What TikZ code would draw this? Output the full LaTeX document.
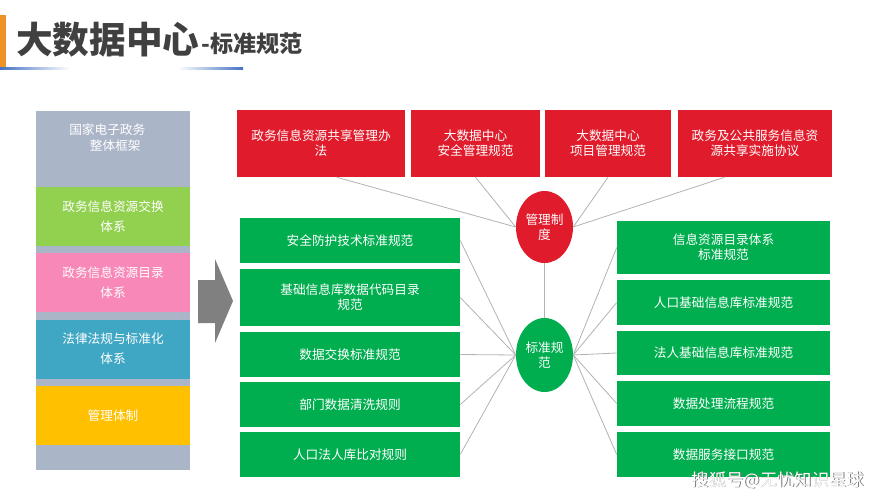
\documentclass[tikz,border=0pt]{standalone}
\usepackage{fontspec}
\setmainfont{Noto Sans CJK SC}
\definecolor{frameGray}{HTML}{ABB5C8}
\definecolor{limeGreen}{HTML}{92D050}
\definecolor{rosePink}{HTML}{F788B8}
\definecolor{seaBlue}{HTML}{3FA7C4}
\definecolor{amber}{HTML}{FFC000}
\definecolor{ruleRed}{HTML}{E01B2B}
\definecolor{stdGreen}{HTML}{00AE50}
\definecolor{titleGray}{HTML}{404040}
\definecolor{barOrange}{HTML}{EE9127}
\definecolor{ruleBlue}{HTML}{4472C4}
\tikzset{
    box/.style n args={2}{rectangle, minimum width=#1*0.75pt, minimum height=#2*0.75pt,
        inner sep=0pt, align=center, text=white, font=\fontsize{9.5pt}{11.3pt}\selectfont},
    wideBox/.style n args={2}{box={#1}{#2}, font=\fontsize{9.5pt}{15pt}\selectfont},
    hub/.style={ellipse, minimum width=57*0.75pt, inner sep=0pt, align=center, text=white,
        font=\fontsize{9.5pt}{10.8pt}\selectfont},
    link/.style={draw=gray!60, line width=0.6pt}
}
\usetikzlibrary{shapes.geometric}
\begin{document}
\begin{tikzpicture}[x=0.75pt,y=-0.75pt]
	\useasboundingbox (0,0) rectangle (889,500);
	% title
	\fill[barOrange] (0,15) rectangle (6,68);
	\shade[left color=ruleBlue, right color=white] (0,67.5) rectangle (70,69);
	\shade[left color=white, right color=ruleBlue] (178,67.5) rectangle (243,69);
	\node[anchor=base west, inner sep=0pt, text=titleGray, font=\fontsize{27.5pt}{27.5pt}\selectfont\bfseries] (title) at (16,53.5) {大数据中心};
	\node[anchor=base west, inner sep=0pt, text=titleGray, font=\fontsize{17.3pt}{17.3pt}\selectfont\bfseries] (subtitle) at (201,52.5) {-标准规范};
	% left column
	\fill[frameGray] (36,111) rectangle (190,470);
	\node[box={154}{59}, fill=limeGreen, wideBox={154}{59}] (layerA) at (113,216.5) {政务信息资源交换\\体系};
	\node[box={154}{59}, fill=rosePink, wideBox={154}{59}] (layerB) at (113,282.5) {政务信息资源目录\\体系};
	\node[box={154}{59}, fill=seaBlue, wideBox={154}{59}] (layerC) at (113,349) {法律法规与标准化\\体系};
	\node[box={154}{59}, fill=amber] (layerD) at (113,415.5) {管理体制};
	\node[anchor=north west, inner sep=0pt, align=left, text=white, font=\fontsize{9.5pt}{11.3pt}\selectfont] (layerTop) at (69,124) {国家电子政务\\\hspace*{15.5pt}整体框架};
	% arrow
	\fill[gray] (198,280) -- (215,280) -- (215,259) -- (233,301) -- (215,343) -- (215,323) -- (198,323) -- cycle;
	% red row
	\node[box={168}{67}, fill=ruleRed] (ruleA) at (321,143.5) {政务信息资源共享管理办\\法};
	\node[box={129}{67}, fill=ruleRed] (ruleB) at (475.5,143.5) {大数据中心\\安全管理规范};
	\node[box={126}{67}, fill=ruleRed] (ruleC) at (608,143.5) {大数据中心\\项目管理规范};
	\node[box={154}{67}, fill=ruleRed] (ruleD) at (755,143.5) {政务及公共服务信息资\\源共享实施协议};
	% hubs
	\node[hub, fill=ruleRed, minimum height=72*0.75pt] (hubRule) at (544.5,227) {管理制\\度};
	\node[hub, fill=stdGreen, minimum height=74*0.75pt] (hubStd) at (544.5,355) {标准规\\范};
	% left green boxes
	\node[box={220}{45}, fill=stdGreen] (leftA) at (350,240.5) {安全防护技术标准规范};
	\node[box={220}{57}, fill=stdGreen] (leftB) at (350,297.5) {基础信息库数据代码目录\\规范};
	\node[box={220}{45}, fill=stdGreen] (leftC) at (350,354.5) {数据交换标准规范};
	\node[box={220}{45}, fill=stdGreen] (leftD) at (350,404.5) {部门数据清洗规则};
	\node[box={220}{45}, fill=stdGreen] (leftE) at (350,454.5) {人口法人库比对规则};
	% right green boxes
	\node[box={213}{53}, fill=stdGreen] (rightA) at (723.5,247.5) {信息资源目录体系\\标准规范};
	\node[box={213}{45}, fill=stdGreen] (rightB) at (723.5,302.5) {人口基础信息库标准规范};
	\node[box={213}{44}, fill=stdGreen] (rightC) at (723.5,353) {法人基础信息库标准规范};
	\node[box={213}{45}, fill=stdGreen] (rightD) at (723.5,403.5) {数据处理流程规范};
	\node[box={213}{45}, fill=stdGreen] (rightE) at (723.5,454.5) {数据服务接口规范};
	% links
	\draw[link] (ruleA.-65) -- (hubRule.west);
	\draw[link] (ruleB.south) -- (hubRule.west);
	\draw[link] (ruleC.south) -- (hubRule.east);
	\draw[link] (ruleD.-132) -- (hubRule.east);
	\draw[link] (hubRule.south) -- (hubStd.north);
	\foreach \n in {leftA,leftB,leftC,leftD,leftE}
		\draw[link] (\n.east) -- (hubStd.west);
	\foreach \n in {rightA,rightB,rightC,rightD,rightE}
		\draw[link] (\n.west) -- (hubStd.east);
	% watermark
	\node[anchor=base, inner sep=0pt, text=black!55, font=\fontsize{13pt}{13pt}\selectfont] (markShadow) at (778.7,486.7) {搜狐号@无忧知识星球};
	\node[anchor=base, inner sep=0pt, text=white, font=\fontsize{13pt}{13pt}\selectfont] (mark) at (778,486) {搜狐号@无忧知识星球};
\end{tikzpicture}
\end{document}
